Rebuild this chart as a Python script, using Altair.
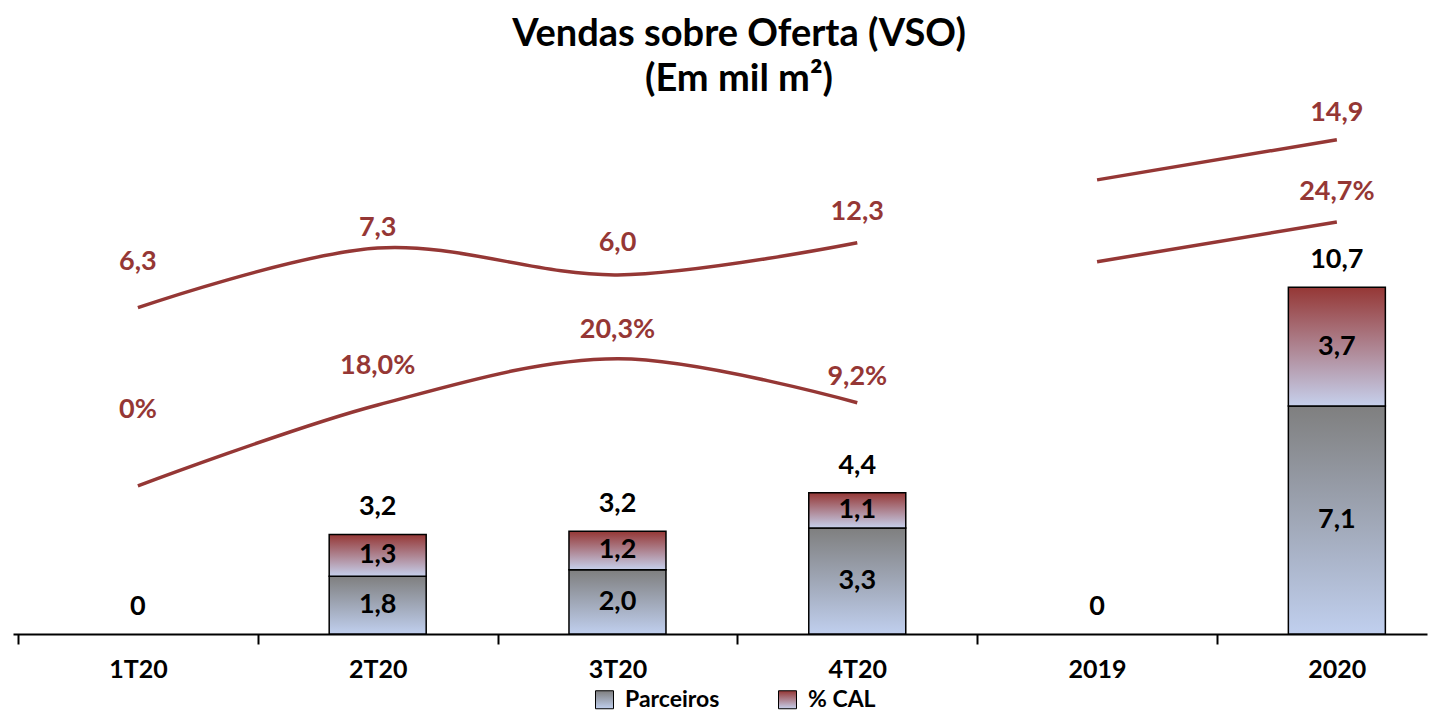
import altair as alt
import pandas as pd

# ---------------- data ----------------
categories = ["1T20", "2T20", "3T20", "4T20", "2019", "2020"]
parceiros = [0.0, 1.8, 2.0, 3.3, 0.0, 7.1]
cal = [0.0, 1.3, 1.2, 1.1, 0.0, 3.7]
totals = [0.0, 3.2, 3.2, 4.4, 0.0, 10.7]

# VSO values (mil m²) and % CAL labels drawn on the curves
vso_values = [6.3, 7.3, 6.0, 12.3, None, 14.9]
cal_pct = [0.0, 18.0, 20.3, 9.2, None, 24.7]
# height (in chart units) at which each decorative curve is drawn
vso_curve = [10.16, 12.02, 11.18, 12.18, 14.14, 15.39]
pct_curve = [4.61, 7.13, 8.57, 7.20, 11.59, 12.83]
# height of the curve labels (chart units)
vso_label_at = [11.59, 12.65, 12.18, 13.15, None, 16.23]
pct_label_at = [6.98, 8.35, 9.47, 8.01, None, 13.77]
segment = ["quarters", "quarters", "quarters", "quarters", "years", "years"]
separator_before = "2019"
separator_top = 15.23

series_names = ["Parceiros", "% CAL"]

RED = "#953735"
FONT = "Lato"


def fmt(v, pct=False):
    if v == 0:
        return "0%" if pct else "0"
    s = f"{v:.1f}".replace(".", ",")
    return s + "%" if pct else s


# ---------------- frames ----------------
rows = []
for i, c in enumerate(categories):
    base = 0.0
    for k, (name, vals) in enumerate(zip(series_names, [parceiros, cal])):
        v = vals[i]
        rows.append({"idx": i, "cat": c, "series": name, "ord": k,
                     "value": v, "start": base, "end": base + v,
                     "mid": base + v / 2, "label": fmt(v)})
        base += v
bars_df = pd.DataFrame(rows)
bars_df = bars_df[bars_df["value"] > 0]

tot_df = pd.DataFrame({
    "idx": list(range(len(categories))),
    "top": [p + c for p, c in zip(parceiros, cal)],
    "label": [fmt(t) for t in totals],
})

line_rows = []
for i in range(len(categories)):
    line_rows.append({"idx": i, "level": vso_curve[i], "key": "vso-" + segment[i]})
    line_rows.append({"idx": i, "level": pct_curve[i], "key": "pct-" + segment[i]})
lines_df = pd.DataFrame(line_rows)

lab_rows = []
for i in range(len(categories)):
    if vso_values[i] is not None:
        lab_rows.append({"idx": i, "level": vso_label_at[i], "label": fmt(vso_values[i])})
    if cal_pct[i] is not None:
        lab_rows.append({"idx": i, "level": pct_label_at[i], "label": fmt(cal_pct[i], pct=True)})
labels_df = pd.DataFrame(lab_rows)

sep_df = pd.DataFrame({"x": [categories.index(separator_before) - 0.5],
                       "top": [separator_top], "base": [0.0]})

# ---------------- layout ----------------
W = 1414
H = 546
STEP = 241.5
YMAX = 17
xmax = -0.5 + W / STEP

xscale = alt.Scale(domain=[-0.5, xmax], nice=False, zero=False)
yscale = alt.Scale(domain=[0, YMAX], nice=False)

tick_vals = [i / 2 for i in range(-1, 2 * len(categories) - 1)]
label_expr = ("datum.value % 1 === 0 ? " + str(categories).replace(" ", "")
              + "[datum.value] : ''")
xaxis = alt.Axis(
    values=tick_vals, labelExpr=label_expr, title=None, grid=False,
    domainColor="black", domainWidth=2, tickColor="black", tickWidth=2,
    tickSize=10,
    tickOpacity={"condition": {"test": "datum.value % 1 === 0", "value": 0}, "value": 1},
    labelFont=FONT, labelFontSize=25, labelFontWeight="bold", labelColor="black",
    labelPadding=13, labelOverlap=False, labelFlush=False, labelBound=False,
)


def X():
    return alt.X("idx:Q", scale=xscale, axis=xaxis)


def grad(top, bottom):
    return {"expr": "{gradient: 'linear', x1: 0, y1: 0, x2: 0, y2: 1, stops: "
                    "[{offset: 0, color: '%s'}, {offset: 1, color: '%s'}]}" % (top, bottom)}


color_scale = alt.Scale(domain=series_names,
                        range=[grad("#7f7f7f", "#c0cfee"), grad(RED, "#c6d0ec")])

bars = alt.Chart(bars_df).mark_bar(size=97, stroke="black", strokeWidth=1.5).encode(
    x=X(),
    y=alt.Y("start:Q", scale=yscale, axis=None),
    y2="end:Q",
    color=alt.Color("series:N", scale=color_scale, legend=alt.Legend(
        title=None, orient="none", legendX=580, legendY=H + 54,
        direction="horizontal", symbolType="square", symbolSize=324,
        symbolStrokeColor="black", symbolStrokeWidth=1,
        labelFont=FONT, labelFontSize=23, labelFontWeight="bold",
        labelColor="black", labelOffset=9, columnPadding=56)),
)

lines = alt.Chart(lines_df).mark_line(color=RED, strokeWidth=3.5,
                                      interpolate="catmull-rom").encode(
    x=X(), y=alt.Y("level:Q", scale=yscale, axis=None), detail="key:N")

sep = alt.Chart(sep_df).mark_rule(color=RED, strokeWidth=4, strokeDash=[4, 4]).encode(
    x=X(), y=alt.Y("top:Q", scale=yscale, axis=None), y2="base:Q")

seg_text = alt.Chart(bars_df).mark_text(font=FONT, fontSize=27, fontWeight="bold",
                                        color="black", baseline="middle").encode(
    x=X(), y=alt.Y("mid:Q", scale=yscale, axis=None), text="label:N")

tot_text = alt.Chart(tot_df).mark_text(font=FONT, fontSize=27, fontWeight="bold",
                                       color="black", baseline="middle", dy=-27).encode(
    x=X(), y=alt.Y("top:Q", scale=yscale, axis=None), text="label:N")

line_text = alt.Chart(labels_df).mark_text(font=FONT, fontSize=27, fontWeight="bold",
                                           color=RED, baseline="middle").encode(
    x=X(), y=alt.Y("level:Q", scale=yscale, axis=None), text="label:N")

chart = alt.layer(bars, lines, sep, seg_text, tot_text, line_text).properties(
    width=W, height=H,
    title=alt.TitleParams(text=["Vendas sobre Oferta (VSO)", "(Em mil m²)"],
                          font=FONT, fontSize=38, fontWeight="bold", color="black",
                          anchor="middle", lineHeight=45, dx=19, dy=11, offset=0),
    autosize=alt.AutoSizeParams(type="none"),
    padding={"left": 5, "right": 5, "top": 80, "bottom": 78},
).configure_view(stroke=None)

chart.save("out.html", embed_options={"renderer": "svg", "actions": False})
